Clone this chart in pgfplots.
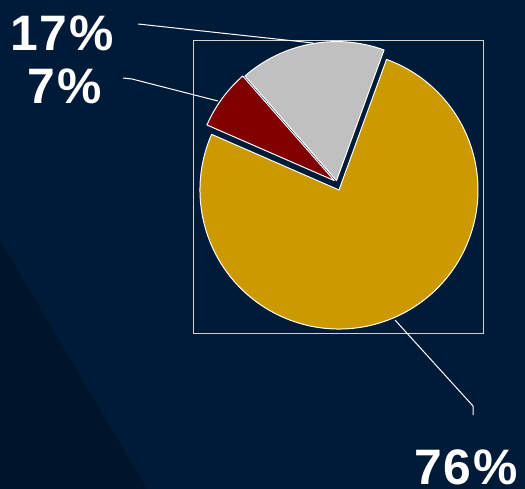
\documentclass[border=0pt]{standalone}
\usepackage{pgfplots}
\pgfplotsset{compat=1.18}
\usepackage{fontspec}
\setmainfont{Liberation Sans}
\newfontfamily\labelfont[LetterSpace=4]{Liberation Sans}
\definecolor{bg}{RGB}{0,27,56}
\definecolor{bgdark}{RGB}{0,21,44}
\definecolor{piegold}{RGB}{204,153,0}
\definecolor{piered}{RGB}{128,0,0}
\definecolor{piegray}{RGB}{192,192,192}
\definecolor{frame}{RGB}{210,210,210}
\begin{document}
\begin{tikzpicture}
\begin{axis}[width=525bp,height=489bp,scale only axis,
  xmin=0,xmax=525,ymin=0,ymax=489,y dir=reverse,hide axis,clip=false]
\fill[bg] (axis cs:0,0) rectangle (axis cs:525,489);
\fill[bgdark] (axis cs:0,240) -- (axis cs:0,489) -- (axis cs:147,489) -- cycle;
\draw[frame, line width=1bp] (axis cs:193,41) rectangle (axis cs:483,333);
% pie: value (percent) / colour / vertex offset (px)
\xdef\cum{70}
\foreach \v/\col/\dx/\dy in {17/piegray/-2.5/-9.4, 7/piered/-4.7/-9.4, 76/piegold/0/0} {
  \pgfmathsetmacro\s{\cum}
  \pgfmathsetmacro\e{\cum+3.6*\v}
  \pgfmathsetmacro\cx{339+\dx}
  \pgfmathsetmacro\cy{190+\dy}
  \xdef\cum{\e}
  \edef\temp{\noexpand\filldraw[fill=\col, draw=white, line width=1bp, line join=round]
    (axis cs:\cx,\cy) -- ++(\s:139bp) arc[start angle=\s, end angle=\e, radius=139bp] -- cycle;}
  \temp
}
\draw[white, line width=1bp] (axis cs:138,24) -- (axis cs:313,43);
\draw[white, line width=1bp] (axis cs:123,78) -- (axis cs:132,79) -- (axis cs:218,101);
\draw[white, line width=1bp] (axis cs:395,320) -- (axis cs:473,406) -- (axis cs:473,415);
\node[anchor=base, text=white, font=\fontsize{50}{60}\selectfont\labelfont\bfseries, inner sep=0pt] at (axis cs:62,51) {17\%};
\node[anchor=base, text=white, font=\fontsize{50}{60}\selectfont\labelfont\bfseries, inner sep=0pt] at (axis cs:64.5,103) {7\%};
\node[anchor=base, text=white, font=\fontsize{50}{60}\selectfont\labelfont\bfseries, inner sep=0pt] at (axis cs:466,484) {76\%};
\end{axis}
\end{tikzpicture}
\end{document}
